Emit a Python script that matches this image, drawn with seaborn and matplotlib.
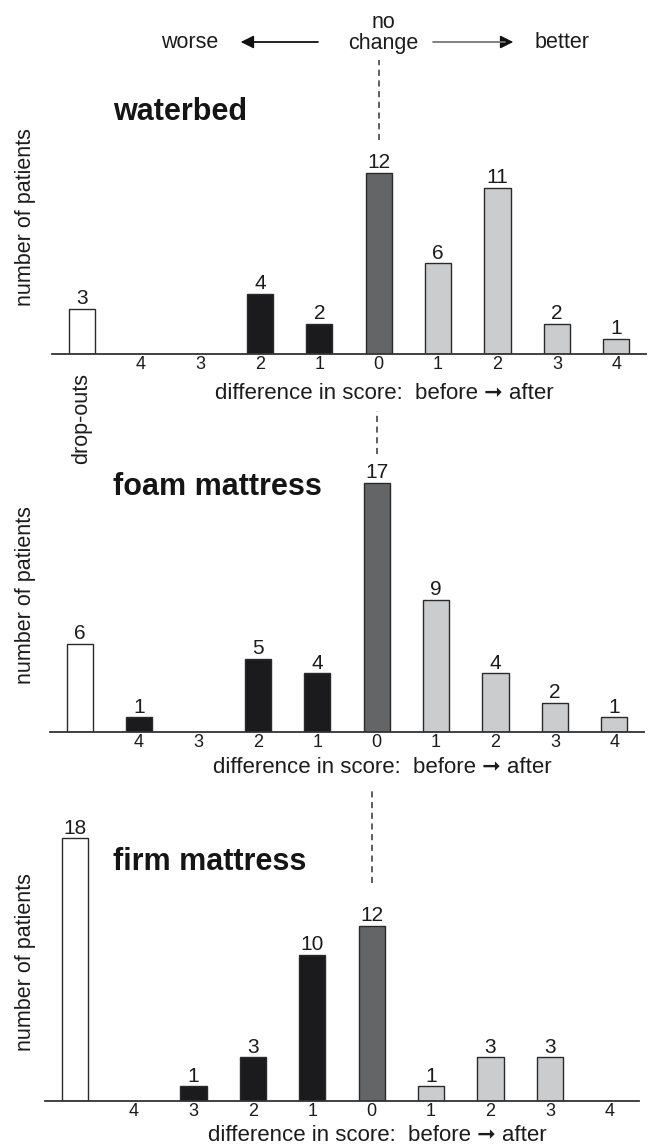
import matplotlib
matplotlib.use("Agg")
import matplotlib.pyplot as plt
import pandas as pd
import seaborn as sns

# categories along the x axis (drop-outs first, then score differences)
categories = ["drop-outs", "-4", "-3", "-2", "-1", "0", "+1", "+2", "+3", "+4"]
tick_labels = ["", "4", "3", "2", "1", "0", "1", "2", "3", "4"]
groups = ["dropout", "worse", "worse", "worse", "worse", "none", "better", "better", "better", "better"]

panel_titles = ["waterbed", "foam mattress", "firm mattress"]
waterbed = [3, 0, 0, 4, 2, 12, 6, 11, 2, 1]
foam = [6, 1, 0, 5, 4, 17, 9, 4, 2, 1]
firm = [18, 0, 1, 3, 10, 12, 1, 3, 3, 0]

palette = {"dropout": "#ffffff", "worse": "#1b1b1d", "none": "#646566", "better": "#cbcccd"}
TXT = "#1c1c1c"

W, H = 649, 1146

sns.set_style("white")
plt.rcParams["font.family"] = ["Liberation Sans", "DejaVu Sans"]

fig = plt.figure(figsize=(W / 100, H / 100), dpi=100)


def fx(x):
    return x / W


def fy(y):
    # y measured in pixels from the top of the picture
    return 1 - y / H


# axes layout: left edge, baseline (px from top), pixels per patient, y max
layout = [
    (52, 354, 15.1, 13.5),
    (50, 732, 14.65, 18.0),
    (45, 1101, 14.6, 19.0),
]
# dashed "no change" segments (data units of each panel)
dash_spans = [(14.2, 19.5), (19.0, 21.9), (14.9, 21.2)]
xlabel_offset = [-32.5, -29.5, -28.8]
title_y = [112, 487, 862]
ylabel_y = [217, 595, 962]

for k, vals in enumerate([waterbed, foam, firm]):
    left, base, ppu, ymax = layout[k]
    h = ymax * ppu
    ax = fig.add_axes([fx(left), fy(base), 594 / W, h / H])

    df = pd.DataFrame({"cat": categories, "n": vals, "grp": groups})
    df = df[df["n"] > 0]
    sns.barplot(data=df, x="cat", y="n", hue="grp", order=categories,
                palette=palette, dodge=False, width=0.44, legend=False,
                edgecolor="#2a2a2a", linewidth=1.0, ax=ax)

    for i, v in enumerate(vals):
        if v > 0:
            ax.annotate(str(v), xy=(i, v), xytext=(0, 0.5), textcoords="offset points",
                        ha="center", va="bottom", fontsize=15, color=TXT)

    ax.set_xlim(-0.5, 9.5)
    ax.set_ylim(0, ymax)
    ax.set_xticks(range(len(categories)))
    ax.set_xticklabels(tick_labels, fontsize=13, color=TXT)
    ax.tick_params(axis="x", length=0, pad=1.5)
    ax.set_yticks([])
    ax.set_xlabel("")
    ax.set_ylabel("")
    for s in ["left", "right", "top"]:
        ax.spines[s].set_visible(False)
    ax.spines["bottom"].set_color("#333333")
    ax.spines["bottom"].set_linewidth(1.3)
    ax.patch.set_alpha(0)

    ax.annotate("difference in score:  before \u279e after", xy=(5.1, 0),
                xytext=(0, xlabel_offset[k]), textcoords="offset points",
                ha="center", va="baseline", fontsize=16, color=TXT, annotation_clip=False)

    y0, y1 = dash_spans[k]
    ax.plot([5, 5], [y0, y1], ls=(0, (4, 3)), color="#333333", lw=1.1, clip_on=False)

    fig.text(fx(113), fy(title_y[k]), panel_titles[k], fontsize=22, fontweight="bold",
             ha="left", va="center", color="#151515")
    fig.text(fx(26), fy(ylabel_y[k]), "number of patients", rotation=90, fontsize=15.5,
             ha="center", va="center", color=TXT)

# drop-outs label below the first panel
fig.text(fx(82), fy(418), "drop-outs", rotation=90, fontsize=15.5,
         ha="center", va="center", color=TXT)

# header: worse <- no change -> better
fig.text(fx(190), fy(43), "worse", fontsize=15.5, ha="center", va="center", color=TXT)
fig.text(fx(383), fy(33), "no\nchange", fontsize=15.5, ha="center", va="center",
         linespacing=1.0, color=TXT)
fig.text(fx(562), fy(43), "better", fontsize=15.5, ha="center", va="center", color=TXT)
fig.add_artist(plt.Line2D([fx(245), fx(318)], [fy(42), fy(42)], color="#111111", lw=1.3))
fig.add_artist(plt.Line2D([fx(433), fx(505)], [fy(42), fy(42)], color="#777777", lw=1.3))
plt.annotate("", xy=(fx(238), fy(42)), xytext=(fx(252), fy(42)), xycoords="figure fraction",
             arrowprops=dict(arrowstyle="-|>", color="#111111", lw=1.0, mutation_scale=20))
plt.annotate("", xy=(fx(516), fy(42)), xytext=(fx(502), fy(42)), xycoords="figure fraction",
             arrowprops=dict(arrowstyle="-|>", color="#111111", lw=1.0, mutation_scale=20))

fig.savefig("out.png", dpi=100, facecolor="white")
